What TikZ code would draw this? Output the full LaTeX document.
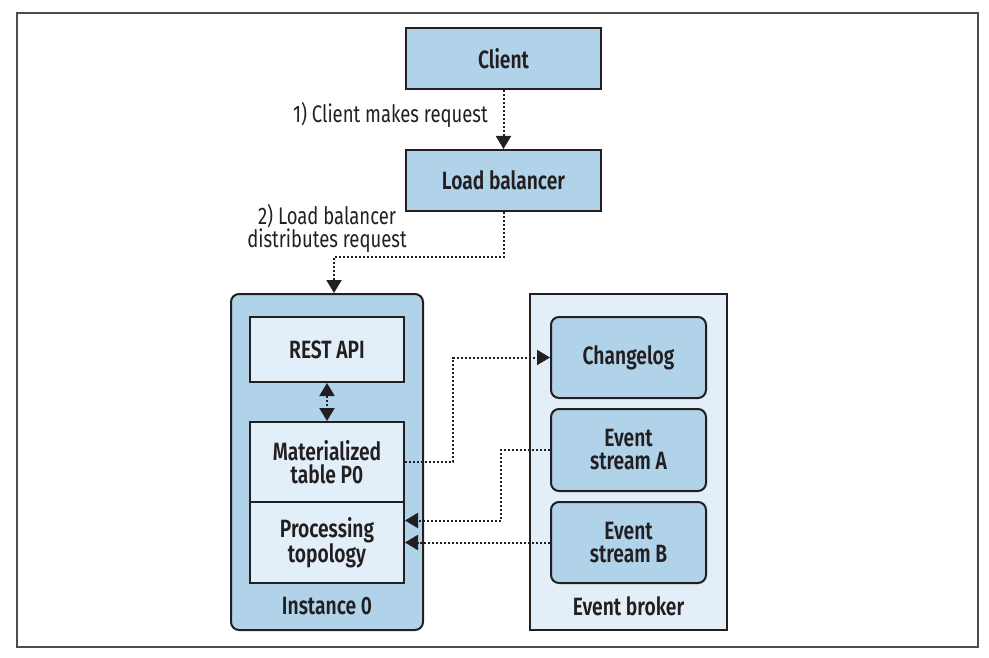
\documentclass[tikz,border=0pt]{standalone}
\usepackage{fontspec}
\setmainfont{Fira Sans}[FakeStretch=0.77, BoldFont={Fira Sans SemiBold}]
\usepackage{tikz}
\usetikzlibrary{arrows.meta, positioning}
\definecolor{boxblue}{HTML}{B0D3EA}
\definecolor{paleblue}{HTML}{E2EFF8}
\definecolor{edge}{HTML}{231F20}

\begin{document}
\begin{tikzpicture}[x=1pt, y=-1pt,
        txt/.style={font=\fontsize{24}{23}\selectfont, text=edge, inner sep=0pt, align=center},
        box/.style={txt, draw=edge, line width=2pt, fill=boxblue, font=\bfseries\fontsize{25}{23}\selectfont},
        pale/.style={box, fill=paleblue},
        flow/.style={draw=edge, line width=2pt, dash pattern=on 2pt off 2pt, -{Triangle[length=13pt, width=15pt]}}]
        \useasboundingbox (0, 0) rectangle (989, 658);
        \draw[draw=black!70, line width=1.3pt] (17, 13) rectangle (978, 647);

        \node[box, minimum width=195, minimum height=61] (client) at (503.5, 58.5) {Client};
        \node[box, minimum width=195, minimum height=61] (lb) at (503.5, 180.5) {Load balancer};

        % instance and broker frames
        \node[box, rounded corners=8pt, minimum width=192, minimum height=336] (inst) at (327, 462) {};
        \node[pale, minimum width=197, minimum height=336] (broker) at (628.5, 462) {};
        \node[txt, font=\bfseries\fontsize{25}{23}\selectfont] (instlabel) at (327, 606) {Instance 0};
        \node[txt, font=\bfseries\fontsize{25}{23}\selectfont] (brokerlabel) at (628.5, 606) {Event broker};

        \node[pale, minimum width=154, minimum height=65] (rest) at (327, 349.5) {REST API};
        \node[pale, minimum width=154, minimum height=80] (mat) at (327, 462) {Materialized\\table P0};
        \node[pale, minimum width=154, minimum height=81] (proc) at (327, 542.5) {Processing\\topology};

        \node[box, rounded corners=8pt, minimum width=155, minimum height=81] (chg) at (628.5, 357.5) {Changelog};
        \node[box, rounded corners=8pt, minimum width=155, minimum height=82] (esa) at (628.5, 450) {Event\\stream A};
        \node[box, rounded corners=8pt, minimum width=155, minimum height=81] (esb) at (628.5, 542.5) {Event\\stream B};

        \node[txt, anchor=east] (step1) at (488, 115) {1) Client makes request};
        \node[txt] (step2) at (327, 228) {2) Load balancer\\distributes request};
        \coordinate (bend2) at (334, 257);

        \draw[flow] (client) -- (lb);
        \draw[flow] (lb.south) |- (bend2) -- (bend2 |- inst.north);
        \draw[flow, {Triangle[length=13pt, width=15pt]}-{Triangle[length=13pt, width=15pt]}] (rest) -- (mat);
        \draw[flow] (mat.east) -- ++(48, 0) |- (chg.west);
        \draw[flow] (esa.west) -- ++(-49, 0) |- ([yshift=22pt]proc.east);
        \draw[flow] (esb.west) -- (proc.east);
    \end{tikzpicture}
\end{document}
